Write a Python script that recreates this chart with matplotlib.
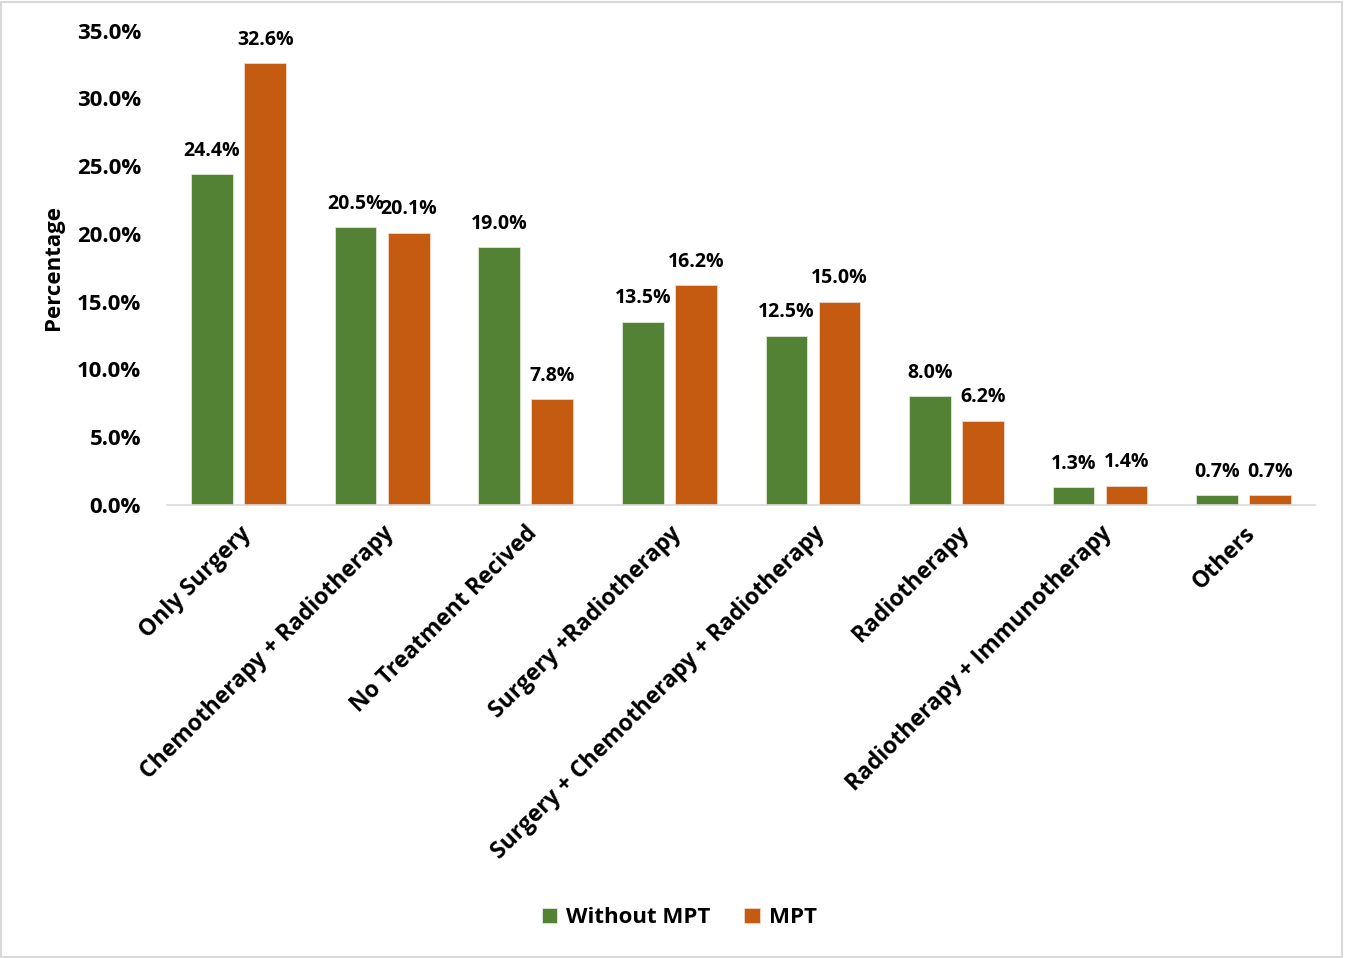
import numpy as np
import matplotlib.pyplot as plt
from matplotlib.patches import Rectangle

plt.rcParams['font.family'] = ['Open Sans', 'DejaVu Sans']
plt.rcParams['font.weight'] = 'bold'

# Данные
categories = ['Only Surgery', 'Chemotherapy + Radiotherapy', 'No Treatment Recived',
              'Surgery +Radiotherapy', 'Surgery + Chemotherapy + Radiotherapy',
              'Radiotherapy', 'Radiotherapy + Immunotherapy', 'Others']
without_mpt = [24.4, 20.5, 19.0, 13.5, 12.5, 8.0, 1.3, 0.7]
mpt = [32.6, 20.1, 7.8, 16.2, 15.0, 6.2, 1.4, 0.7]
y_ticks = [0, 5, 10, 15, 20, 25, 30, 35]

green = '#548235'
orange = '#C55A11'

fig = plt.figure(figsize=(13.45, 9.58), dpi=100)
ax = fig.add_axes([0.124, 0.473, 0.854, 0.495])

x = np.arange(len(categories))
w = 0.29
off = 0.185
b1 = ax.bar(x - off, without_mpt, w, color=green, edgecolor='#dfe8d8', linewidth=0.6, label='Without MPT')
b2 = ax.bar(x + off, mpt, w, color=orange, edgecolor='#f0d8c8', linewidth=0.6, label='MPT')

for bars, vals in ((b1, without_mpt), (b2, mpt)):
    for b, v in zip(bars, vals):
        ax.text(b.get_x() + b.get_width() / 2, v + 1.0, f'{v:.1f}%',
                ha='center', va='bottom', fontsize=14, fontweight='bold')

ax.set_xlim(-0.5, len(categories) - 0.5)
ax.set_ylim(0, 35)
ax.set_yticks(y_ticks)
ax.set_yticklabels([f'{t:.1f}%' for t in y_ticks], fontsize=16, fontweight='bold')
ax.set_xticks(x)
ax.set_xticklabels(categories, rotation=45, ha='right', rotation_mode='anchor',
                   fontsize=16.5, fontweight='bold')
ax.tick_params(axis='both', length=0)
ax.tick_params(axis='x', pad=12)
ax.tick_params(axis='y', pad=18.5)
ax.set_ylabel('Percentage', fontsize=16, fontweight='bold', labelpad=9)

for s in ('top', 'right', 'left'):
    ax.spines[s].set_visible(False)
ax.spines['bottom'].set_color('#d9d9d9')
ax.spines['bottom'].set_linewidth(1.2)

fig.legend(handles=[b1, b2], loc='center', bbox_to_anchor=(0.505, 0.042), ncol=2,
           frameon=False, handlelength=0.7, handleheight=0.7,
           handletextpad=0.4, columnspacing=1.5, prop={'weight': 'bold', 'size': 16})

# Рамка вокруг картинки
fig.patches.append(Rectangle((0.001, 0.001), 0.997, 0.997, transform=fig.transFigure,
                             fill=False, edgecolor='#d9d9d9', linewidth=1.5))

fig.savefig('out.png', dpi=100)
